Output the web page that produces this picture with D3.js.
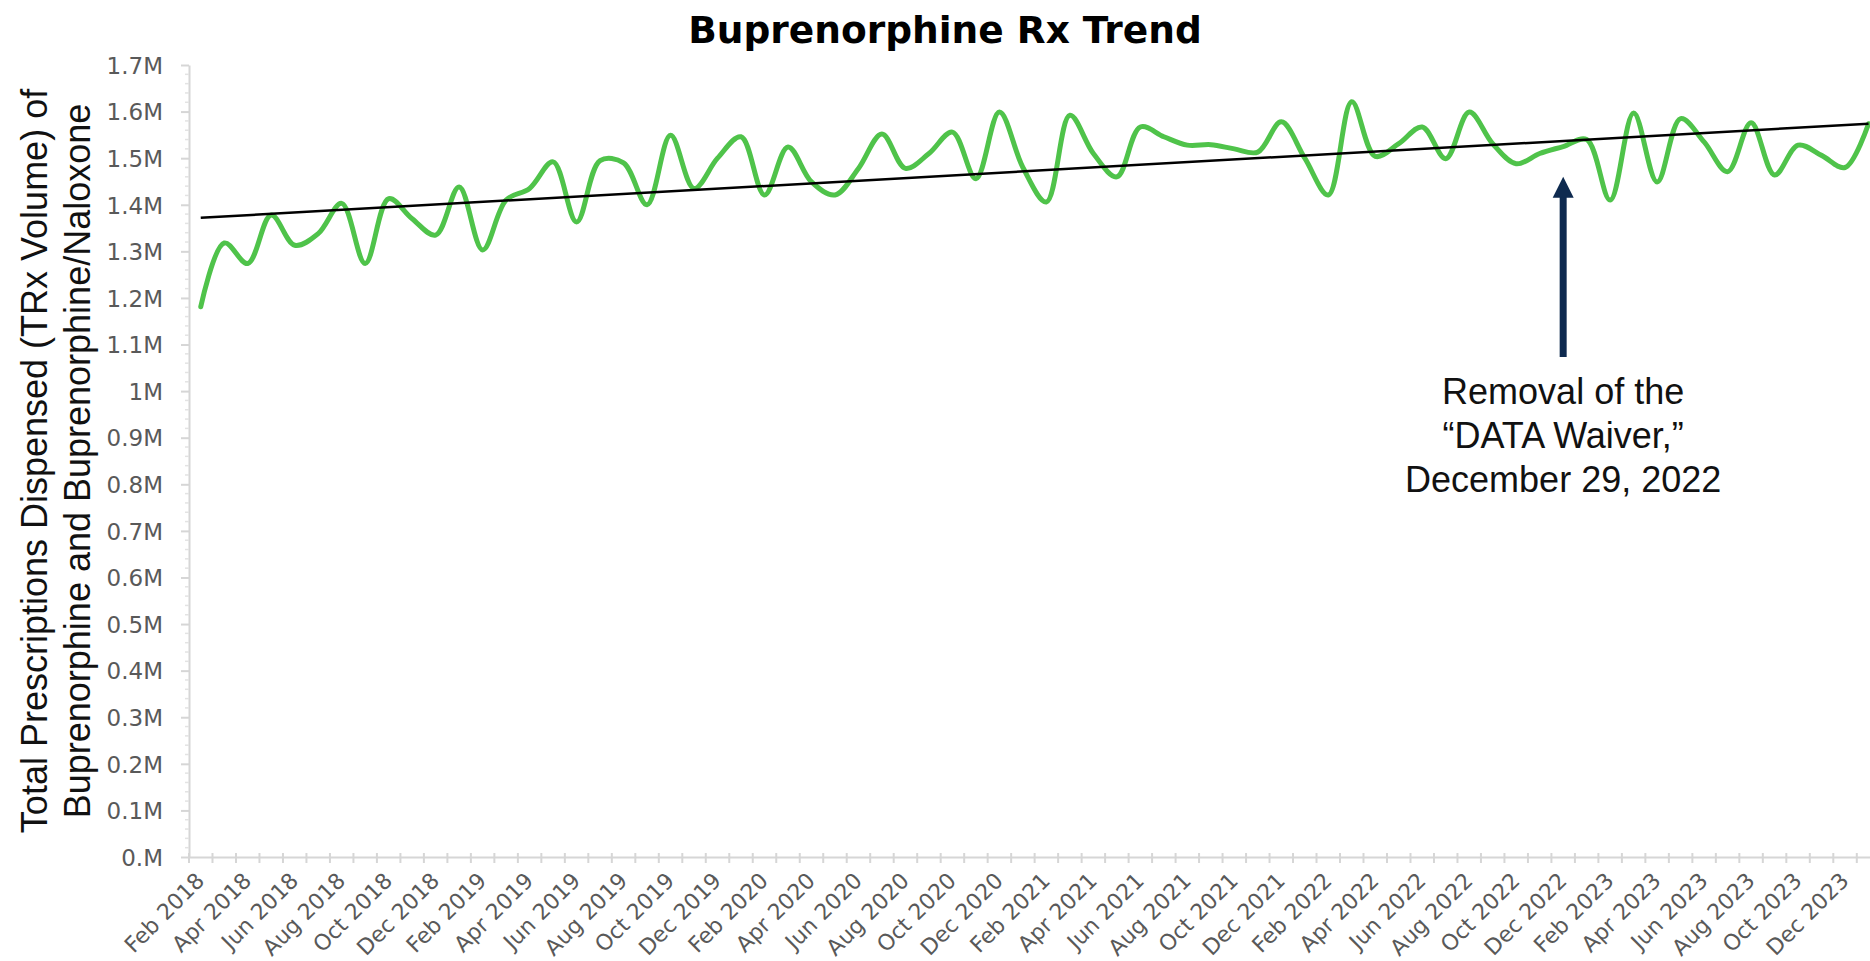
<!DOCTYPE html>
<html>
<head>
<meta charset="utf-8">
<script src="https://cdn.jsdelivr.net/npm/d3@7"></script>
<style>
  html, body { margin: 0; padding: 0; background: #fff; }
  svg { display: block; }
</style>
</head>
<body>
<div id="chart"></div>
<script>
// months shown on the category axis (one point per month)
const months = [
  'Feb 2018', 'Mar 2018', 'Apr 2018', 'May 2018', 'Jun 2018', 'Jul 2018', 'Aug 2018', 'Sep 2018', 'Oct 2018', 'Nov 2018', 'Dec 2018',
  'Jan 2019', 'Feb 2019', 'Mar 2019', 'Apr 2019', 'May 2019', 'Jun 2019', 'Jul 2019', 'Aug 2019', 'Sep 2019', 'Oct 2019', 'Nov 2019', 'Dec 2019',
  'Jan 2020', 'Feb 2020', 'Mar 2020', 'Apr 2020', 'May 2020', 'Jun 2020', 'Jul 2020', 'Aug 2020', 'Sep 2020', 'Oct 2020', 'Nov 2020', 'Dec 2020',
  'Jan 2021', 'Feb 2021', 'Mar 2021', 'Apr 2021', 'May 2021', 'Jun 2021', 'Jul 2021', 'Aug 2021', 'Sep 2021', 'Oct 2021', 'Nov 2021', 'Dec 2021',
  'Jan 2022', 'Feb 2022', 'Mar 2022', 'Apr 2022', 'May 2022', 'Jun 2022', 'Jul 2022', 'Aug 2022', 'Sep 2022', 'Oct 2022', 'Nov 2022', 'Dec 2022',
  'Jan 2023', 'Feb 2023', 'Mar 2023', 'Apr 2023', 'May 2023', 'Jun 2023', 'Jul 2023', 'Aug 2023', 'Sep 2023', 'Oct 2023', 'Nov 2023', 'Dec 2023',
  'Jan 2024',
];

// total prescriptions dispensed, millions
const trxVolume = [
  1.181, 1.318, 1.274, 1.378, 1.313, 1.338, 1.403, 1.274, 1.413, 1.370, 1.335,
  1.438, 1.303, 1.410, 1.435, 1.492, 1.363, 1.495, 1.490, 1.400, 1.549, 1.435, 1.500,
  1.546, 1.421, 1.524, 1.449, 1.421, 1.478, 1.552, 1.478, 1.510, 1.556, 1.456, 1.599,
  1.480, 1.406, 1.592, 1.510, 1.460, 1.567, 1.546, 1.528, 1.529, 1.520, 1.513, 1.578,
  1.500, 1.421, 1.621, 1.504, 1.531, 1.567, 1.499, 1.599, 1.531, 1.488, 1.510, 1.525,
  1.540, 1.410, 1.597, 1.449, 1.585, 1.535, 1.471, 1.576, 1.464, 1.528, 1.506, 1.480,
  1.574,
];

// linear trend, first and last month
const trendValues = [1.372, 1.574];

const yTicks = [0, 0.1, 0.2, 0.3, 0.4, 0.5, 0.6, 0.7, 0.8, 0.9, 1.0, 1.1, 1.2, 1.3, 1.4, 1.5, 1.6, 1.7];
const yTickLabels = ['0.M', '0.1M', '0.2M', '0.3M', '0.4M', '0.5M', '0.6M', '0.7M', '0.8M', '0.9M',
  '1M', '1.1M', '1.2M', '1.3M', '1.4M', '1.5M', '1.6M', '1.7M'];
const xLabelMonths = months.filter((m) => /^(Feb|Apr|Jun|Aug|Oct|Dec) /.test(m));

// annotation
const waiverMonth = 'Dec 2022';
const arrowRange = [1.073, 1.46];
const waiverText = ['Removal of the', '\u201CDATA Waiver,\u201D', 'December 29, 2022'];

const width = 1870;
const height = 961;
const plot = { left: 189, right: 189 + 72 * 23.49, top: 65, bottom: 857 };
const tickColor = '#595959';
const axisColor = '#d6d6d6';

const svg = d3.select('#chart')
  .append('svg')
  .attr('width', width)
  .attr('height', height);

const x = d3.scaleBand().domain(months).range([plot.left, plot.right]);
const y = d3.scaleLinear().domain([0, 1.7]).range([plot.bottom, plot.top]);
const cx = (m) => x(m) + x.bandwidth() / 2;

// title
svg.append('text')
  .attr('x', 945)
  .attr('y', 43)
  .attr('text-anchor', 'middle')
  .style('font-family', '"DejaVu Sans", sans-serif')
  .style('font-weight', 'bold')
  .style('font-size', '37.5px')
  .text('Buprenorphine Rx Trend');

// y axis title, two lines
const yTitle = svg.append('text')
  .attr('transform', `translate(0,${(plot.top + plot.bottom) / 2}) rotate(-90)`)
  .attr('text-anchor', 'middle')
  .style('font-family', '"Liberation Sans", Arial, sans-serif')
  .style('font-size', '36px')
  .attr('fill', '#111');
yTitle.append('tspan').attr('x', 0).attr('y', 47).text('Total Prescriptions Dispensed (TRx Volume) of');
yTitle.append('tspan').attr('x', 0).attr('y', 90).text('Buprenorphine and Buprenorphine/Naloxone');

// y axis
const yAxis = svg.append('g')
  .attr('transform', `translate(${plot.left},0)`)
  .call(d3.axisLeft(y)
    .tickValues(yTicks)
    .tickFormat((d, i) => yTickLabels[i])
    .tickSizeInner(8)
    .tickSizeOuter(0)
    .tickPadding(18));
yAxis.select('.domain').attr('stroke', axisColor).attr('stroke-width', 2);
yAxis.selectAll('.tick line').attr('stroke', axisColor).attr('stroke-width', 2);
yAxis.selectAll('.tick text')
  .attr('fill', tickColor)
  .attr('dy', '0.36em')
  .style('font-family', '"DejaVu Sans", sans-serif')
  .style('font-size', '23px');

// minor ticks on the value axis
svg.append('g')
  .selectAll('line')
  .data(d3.range(0, 85).map((i) => i * 0.02).filter((v) => Math.abs(v * 10 - Math.round(v * 10)) > 1e-6))
  .join('line')
  .attr('x1', plot.left - 4)
  .attr('x2', plot.left)
  .attr('y1', (d) => y(d))
  .attr('y2', (d) => y(d))
  .attr('stroke', '#e3e3e3')
  .attr('stroke-width', 1.5);

// x axis: labels on every other month, ticks between categories
const xAxis = svg.append('g')
  .attr('transform', `translate(0,${plot.bottom})`)
  .call(d3.axisBottom(x).tickValues(xLabelMonths).tickSize(0).tickSizeOuter(0));
xAxis.select('.domain').attr('stroke', axisColor).attr('stroke-width', 2);
xAxis.selectAll('.tick text')
  .attr('x', 0)
  .attr('y', 0)
  .attr('dy', 0)
  .attr('transform', 'translate(5,25) rotate(-45)')
  .attr('text-anchor', 'end')
  .attr('fill', tickColor)
  .style('font-family', '"DejaVu Sans", sans-serif')
  .style('font-size', '22px');

svg.append('g')
  .selectAll('line')
  .data(months.concat(['end']))
  .join('line')
  .attr('x1', (d) => (d === 'end' ? plot.right : x(d)))
  .attr('x2', (d) => (d === 'end' ? plot.right : x(d)))
  .attr('y1', plot.bottom - 4)
  .attr('y2', plot.bottom + 6)
  .attr('stroke', axisColor)
  .attr('stroke-width', 2);

// series line (smoothed like the spreadsheet chart)
const line = d3.line()
  .x((d, i) => cx(months[i]))
  .y((d) => y(d))
  .curve(d3.curveCatmullRom.alpha(0.5));

svg.append('path')
  .datum(trxVolume)
  .attr('d', line)
  .attr('fill', 'none')
  .attr('stroke', '#4fc34a')
  .attr('stroke-width', 5)
  .attr('stroke-linejoin', 'round')
  .attr('stroke-linecap', 'round');

// trend line
svg.append('line')
  .attr('x1', cx(months[0]))
  .attr('y1', y(trendValues[0]))
  .attr('x2', cx(months[months.length - 1]))
  .attr('y2', y(trendValues[1]))
  .attr('stroke', '#000')
  .attr('stroke-width', 2.5);

// annotation arrow
const ax = cx(waiverMonth);
const tipY = y(arrowRange[1]);
const baseY = y(arrowRange[0]);
svg.append('line')
  .attr('x1', ax)
  .attr('x2', ax)
  .attr('y1', baseY)
  .attr('y2', tipY + 18)
  .attr('stroke', '#0e2a4f')
  .attr('stroke-width', 7);
svg.append('path')
  .attr('d', `M${ax},${tipY} L${ax - 10.5},${tipY + 21} L${ax + 10.5},${tipY + 21} Z`)
  .attr('fill', '#0e2a4f');

const note = svg.append('text')
  .attr('text-anchor', 'middle')
  .style('font-family', '"Liberation Sans", Arial, sans-serif')
  .style('font-size', '36px')
  .attr('fill', '#111');
waiverText.forEach((t, i) => {
  note.append('tspan')
    .attr('x', ax)
    .attr('y', baseY + 47 + i * 44)
    .text(t);
});
</script>
</body>
</html>
